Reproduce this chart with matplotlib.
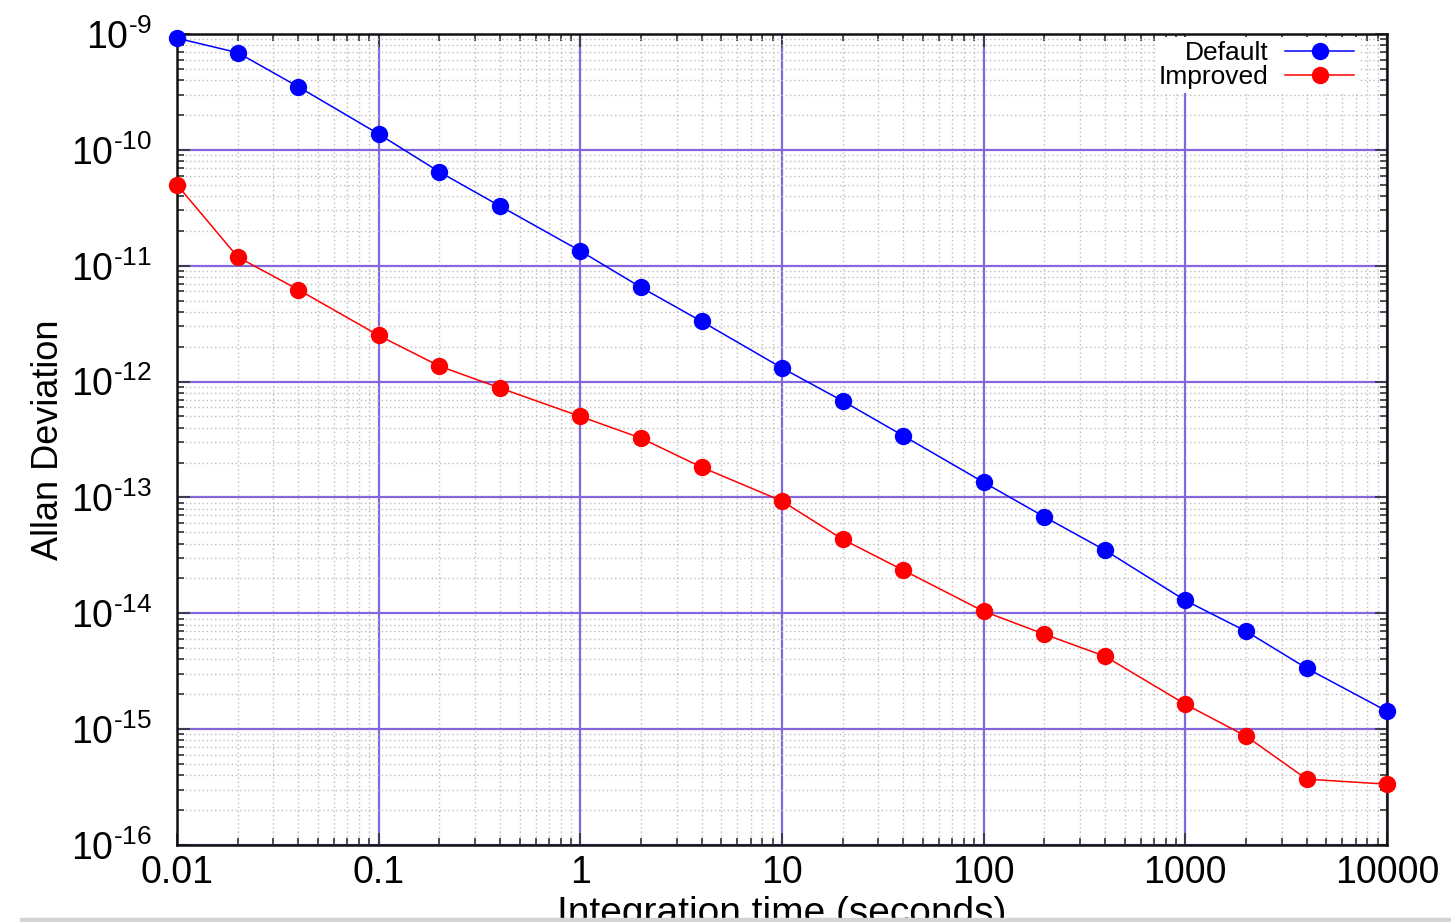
import matplotlib
matplotlib.use("Agg")
import matplotlib.pyplot as plt
from matplotlib.ticker import (LogLocator, FixedLocator, FixedFormatter,
                               NullFormatter, FuncFormatter)
from matplotlib.patches import Rectangle
import numpy as np

plt.rcParams['font.family'] = ['Liberation Sans', 'DejaVu Sans']
plt.rcParams['mathtext.fontset'] = 'custom'
plt.rcParams['mathtext.rm'] = 'Liberation Sans'
plt.rcParams['mathtext.it'] = 'Liberation Sans:italic'
plt.rcParams['mathtext.bf'] = 'Liberation Sans:bold'

# Integration times (s)
tau = [0.01, 0.02, 0.04, 0.1, 0.2, 0.4, 1, 2, 4, 10, 20, 40,
       100, 200, 400, 1000, 2000, 4000, 10000]

# Allan deviation, default configuration
adev_default = [9.2e-10, 6.9e-10, 3.5e-10, 1.37e-10, 6.45e-11, 3.27e-11,
                1.34e-11, 6.5e-12, 3.3e-12, 1.31e-12, 6.8e-13, 3.4e-13,
                1.35e-13, 6.8e-14, 3.5e-14, 1.29e-14, 7.0e-15, 3.35e-15,
                1.43e-15]

# Allan deviation, improved configuration
adev_improved = [5.0e-11, 1.19e-11, 6.2e-12, 2.5e-12, 1.36e-12, 8.8e-13,
                 5.0e-13, 3.25e-13, 1.82e-13, 9.3e-14, 4.35e-14, 2.35e-14,
                 1.04e-14, 6.6e-15, 4.25e-15, 1.64e-15, 8.7e-16, 3.7e-16,
                 3.35e-16]

series_labels = ['Default', 'Improved']
series_colors = ['#0000ff', '#ff0000']

xtick_values = [0.01, 0.1, 1, 10, 100, 1000, 10000]
xtick_labels = ['0.01', '0.1', '1', '10', '100', '1000', '10000']

fig = plt.figure(figsize=(14.51, 9.22), dpi=100)
ax = fig.add_axes([177 / 1451, 77 / 922, 1210 / 1451, 811 / 922])

ax.set_xscale('log')
ax.set_yscale('log')
ax.set_xlim(0.01, 10000)
ax.set_ylim(1e-16, 1e-9)

# grids: light dotted minor, purple major
ax.xaxis.set_minor_locator(LogLocator(base=10, subs=range(2, 10), numticks=20))
ax.yaxis.set_minor_locator(LogLocator(base=10, subs=range(2, 10), numticks=20))
ax.xaxis.set_minor_formatter(NullFormatter())
ax.yaxis.set_minor_formatter(NullFormatter())
ax.grid(which='minor', color='#bdbdbd', linestyle=(0, (1, 2)), linewidth=1.0, zorder=0)
ax.grid(which='major', color='#8466dd', linestyle='-', linewidth=1.6, zorder=1)
ax.set_axisbelow(True)

ax.xaxis.set_major_locator(FixedLocator(xtick_values))
ax.xaxis.set_major_formatter(FixedFormatter(xtick_labels))


def power_label(v, pos):
    e = int(round(np.log10(v)))
    sign = r'\text{-}' if e < 0 else ''
    return r'$\mathdefault{10^{%s%d}}$' % (sign, abs(e))


ax.yaxis.set_major_formatter(FuncFormatter(power_label))

for lab, vals, col in zip(series_labels, [adev_default, adev_improved], series_colors):
    ax.plot(tau, vals, color=col, linewidth=1.1, marker='o', markersize=12.5,
            markeredgewidth=0, label=lab, zorder=3, clip_on=False)

ax.tick_params(which='both', direction='in', top=True, right=True, width=1.2, color='#333333')
ax.tick_params(which='major', length=9, labelsize=27)
ax.tick_params(which='minor', length=5)
ax.tick_params(axis='x', which='major', pad=7)
ax.tick_params(axis='y', which='major', pad=18)

for s in ax.spines.values():
    s.set_linewidth(1.8)
    s.set_color('#111111')

ax.set_ylabel('Allan Deviation', fontsize=26)
ax.yaxis.set_label_coords(-0.092, 0.5)
ax.set_xlabel('Integration time (seconds)', fontsize=28)
ax.xaxis.set_label_coords(0.5, -0.063)

leg = ax.legend(loc='upper right', bbox_to_anchor=(0.976, 0.996), borderaxespad=0,
                markerfirst=False, fontsize=19, handlelength=2.6, handletextpad=0.65,
                labelspacing=0.0, borderpad=0.15, frameon=True, fancybox=False)
leg.get_frame().set_edgecolor('none')
leg.get_frame().set_facecolor('white')
leg.get_frame().set_alpha(1.0)
leg.set_zorder(5)

# thin gray band along the bottom edge
fig.patches.append(Rectangle((20 / 1451, 0), 1 - 20 / 1451, 4 / 922,
                             transform=fig.transFigure, color='#d4d4d4', zorder=10))

fig.savefig('out.png', dpi=100)
